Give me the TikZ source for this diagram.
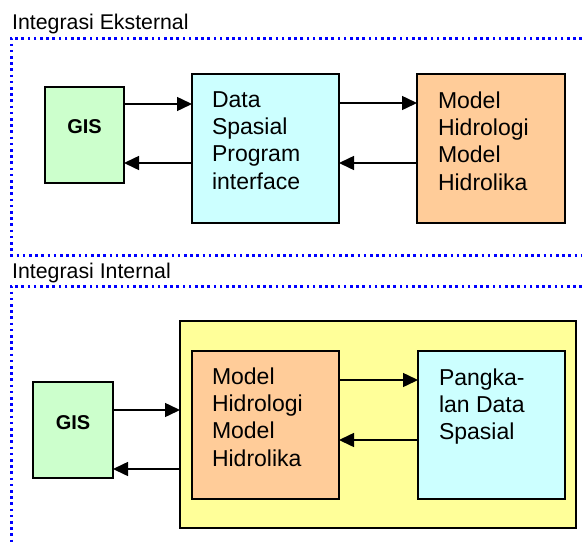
\documentclass[tikz,border=0pt]{standalone}
\usepackage{fontspec}
\setmainfont{Liberation Sans}
\usetikzlibrary{arrows.meta}
\definecolor{gisgreen}{HTML}{CCFFCC}
\definecolor{datacyan}{HTML}{CCFFFF}
\definecolor{modelorange}{HTML}{FFCC99}
\definecolor{outeryellow}{HTML}{FFFF99}
\definecolor{dotblue}{HTML}{0000FF}
\tikzset{
  boxnode/.style={draw=black, line width=1.5pt, inner sep=0pt, outer sep=0pt},
  boxtext/.style={anchor=north west, inner sep=0pt, outer sep=0pt, align=left, font=\fontsize{23}{27.3}\selectfont},
  gistext/.style={anchor=base, inner sep=0pt, font=\fontsize{20}{24}\selectfont\bfseries},
  paneltitle/.style={anchor=base west, inner sep=0pt, font=\fontsize{21.3}{25}\selectfont},
  arr/.style={line width=1.5pt, -{Triangle[length=15pt,width=14pt]}},
  dotline/.style={draw=dotblue, line width=3pt, dash pattern=on 2.6pt off 3.6pt}
}
\begin{document}
\begin{tikzpicture}[x=1pt,y=-1pt]
\useasboundingbox (0,0) rectangle (582,544);
% panels
\draw[dotline] (582,38) -- (11,38) -- (11,255) -- (582,255);
\draw[dotline] (582,286) -- (11,286) -- (11,544);
\node[paneltitle] (t1) at (12,29) {Integrasi Eksternal};
\node[paneltitle] (t2) at (12,278) {Integrasi Internal};
% top
\node[boxnode, fill=gisgreen, minimum width=79pt, minimum height=96pt] (gis1) at (84.5,135) {};
\node[gistext] (gis1t) at (84.5,133) {GIS};
\node[boxnode, fill=datacyan, minimum width=147pt, minimum height=149pt] (data1) at (265.5,148.5) {};
\node[boxtext] (data1t) at (212,91.5) {Data\\Spasial\\Program\\interface};
\node[boxnode, fill=modelorange, minimum width=148pt, minimum height=149pt] (model1) at (491,148.5) {};
\node[boxtext] (model1t) at (438,91.5) {Model\\Hidrologi\\Model\\Hidrolika};
\draw[arr] ([yshift=31pt]gis1.east) -- ([yshift=31pt]gis1.east -| data1.west);
\draw[arr] ([yshift=-14.5pt]data1.west) -- ([yshift=-14.5pt]data1.west -| gis1.east);
\draw[arr] ([yshift=45.5pt]data1.east) -- ([yshift=45.5pt]data1.east -| model1.west);
\draw[arr] ([yshift=-14.5pt]model1.west) -- ([yshift=-14.5pt]model1.west -| data1.east);
% bottom
\node[boxnode, fill=gisgreen, minimum width=80pt, minimum height=96pt] (gis2) at (73,430) {};
\node[gistext] (gis2t) at (73,429) {GIS};
\node[boxnode, fill=outeryellow, minimum width=396pt, minimum height=207pt] (yel) at (378,424.5) {};
\node[boxnode, fill=modelorange, minimum width=147pt, minimum height=148pt] (model2) at (265.5,425) {};
\node[boxtext] (model2t) at (212,367.5) {Model\\Hidrologi\\Model\\Hidrolika};
\node[boxnode, fill=datacyan, minimum width=147pt, minimum height=148pt] (pang) at (491.5,425) {};
\node[boxtext] (pangt) at (439,368.5) {Pangka-\\lan Data\\Spasial};
\draw[arr] ([yshift=20pt]gis2.east) -- ([yshift=20pt]gis2.east -| yel.west);
\draw[arr] ([yshift=-44.5pt]yel.west) -- ([yshift=-44.5pt]yel.west -| gis2.east);
\draw[arr] ([yshift=45pt]model2.east) -- ([yshift=45pt]model2.east -| pang.west);
\draw[arr] ([yshift=-15pt]pang.west) -- ([yshift=-15pt]pang.west -| model2.east);
\end{tikzpicture}
\end{document}
